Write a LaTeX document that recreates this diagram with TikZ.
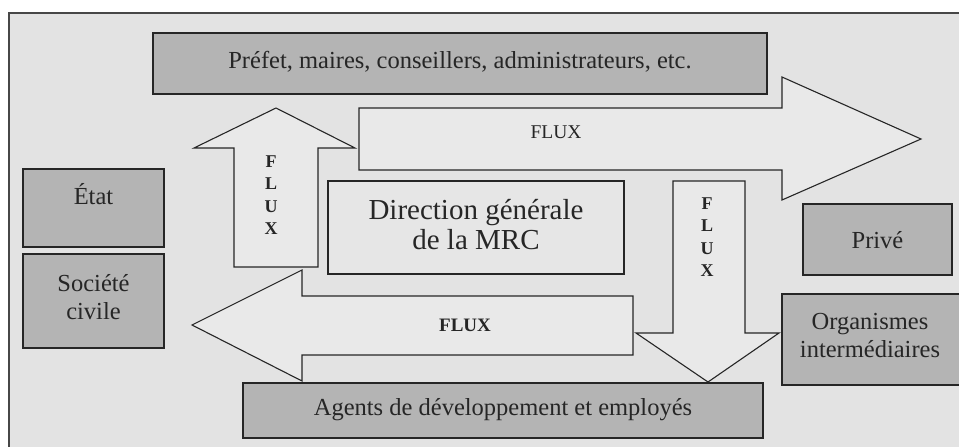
\documentclass[tikz,border=0pt]{standalone}
\usepackage{fontspec}
\setmainfont{Liberation Serif}
\definecolor{panel}{HTML}{E3E3E3}
\definecolor{arrowfill}{HTML}{E9E9E9}
\definecolor{boxfill}{HTML}{B4B4B4}
\definecolor{lightbox}{HTML}{E6E6E6}
\definecolor{ink}{HTML}{262626}
\begin{document}
\begin{tikzpicture}[x=1pt,y=-1pt,
  actor/.style={draw=ink, line width=1.2pt, fill=boxfill, inner sep=0pt},
  core/.style={draw=ink, line width=1.2pt, fill=lightbox, inner sep=0pt},
  flow/.style={draw=ink, line width=1.1pt, fill=arrowfill, line join=miter},
  txt/.style={text=ink, align=center, inner sep=0pt, font=\fontsize{24.5}{28}\selectfont},
  bigtxt/.style={text=ink, align=center, inner sep=0pt, font=\fontsize{29}{30}\selectfont},
  vflux/.style={text=ink, align=center, inner sep=0pt, font=\bfseries\fontsize{18}{22.3}\selectfont},
]
\useasboundingbox (0,0) rectangle (959,447);

% page and framed panel
\fill[white] (0,0) rectangle (959,447);
\fill[panel] (9,13) rectangle (959,447);
\draw[ink!85, line width=1.5pt] (959,13) -- (9,13) -- (9,447);

% flow arrows
\draw[flow] (234,267) -- (234,148) -- (194,148) -- (276,108) -- (355,148)
  -- (318,148) -- (318,267) -- cycle;
\draw[flow] (359,108) -- (782,108) -- (782,77) -- (921,139) -- (782,200)
  -- (782,170) -- (359,170) -- cycle;
\draw[flow] (673,181) -- (745,181) -- (745,333) -- (779,333) -- (708,382)
  -- (636,333) -- (673,333) -- cycle;
\draw[flow] (633,296) -- (302,296) -- (302,270) -- (192,325) -- (302,381)
  -- (302,355) -- (633,355) -- cycle;

% arrow labels
\node[vflux] (fluxup) at (271,195) {F\\L\\U\\X};
\node[vflux] (fluxdown) at (707,237) {F\\L\\U\\X};
\node[text=ink, inner sep=0pt, font=\fontsize{19.5}{22}\selectfont] (fluxright) at (556,132) {FLUX};
\node[text=ink, inner sep=0pt, font=\bfseries\fontsize{19}{22}\selectfont] (fluxleft) at (465,325) {FLUX};

% actors
\node[actor, minimum width=614pt, minimum height=61pt] (prefet) at (460,63.5) {};
\node[txt] (prefettxt) at (460,62) {Préfet, maires, conseillers, administrateurs, etc.};

\node[actor, minimum width=141pt, minimum height=78pt] (etat) at (93.5,208) {};
\node[txt] (etattxt) at (93.5,194) {État};

\node[actor, minimum width=141pt, minimum height=94pt] (societe) at (93.5,301) {};
\node[txt] (societetxt) at (93.5,297) {Société\\civile};

\node[actor, minimum width=149pt, minimum height=71pt] (prive) at (877.5,239.5) {};
\node[txt] (privetxt) at (877.5,240) {Privé};

\node[actor, minimum width=188pt, minimum height=91pt] (organismes) at (876,339.5) {};
\node[txt] (organismestxt) at (870,336) {Organismes\\intermédiaires};

\node[core, minimum width=296pt, minimum height=93pt] (direction) at (476,227.5) {};
\node[bigtxt] (directiontxt) at (476,225) {Direction générale\\de la MRC};

\node[actor, minimum width=520pt, minimum height=55pt] (agents) at (503,410.5) {};
\node[txt] (agentstxt) at (503,410) {Agents de développement et employés};
\end{tikzpicture}
\end{document}
